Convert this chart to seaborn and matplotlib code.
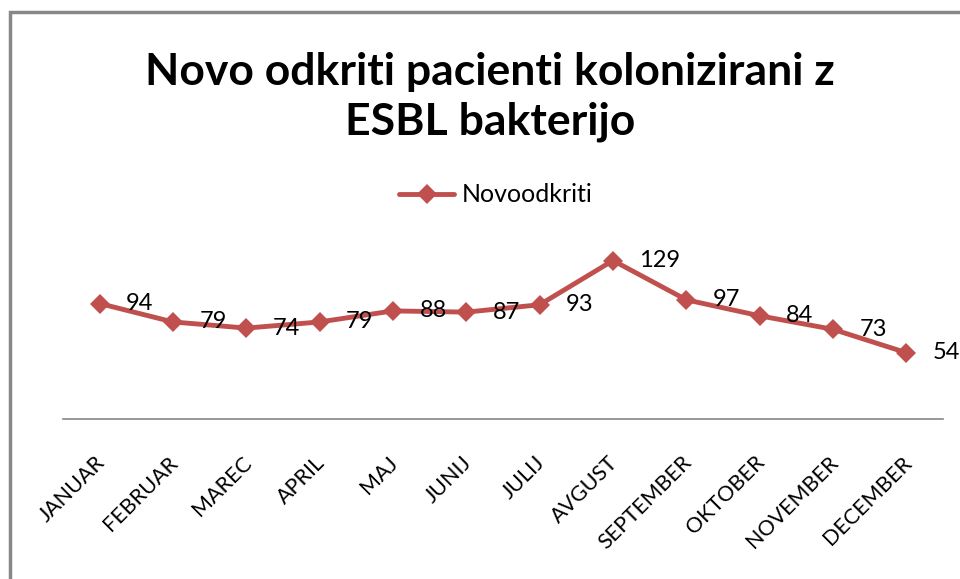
import pandas as pd
import seaborn as sns
import matplotlib.pyplot as plt
import matplotlib.transforms as mtransforms
from matplotlib.patches import Rectangle

months = ['JANUAR', 'FEBRUAR', 'MAREC', 'APRIL', 'MAJ', 'JUNIJ', 'JULIJ',
          'AVGUST', 'SEPTEMBER', 'OKTOBER', 'NOVEMBER', 'DECEMBER']
novoodkriti = [94, 79, 74, 79, 88, 87, 93, 129, 97, 84, 73, 54]

df = pd.DataFrame({'mesec': months, 'Novoodkriti': novoodkriti})

sns.set_theme(style='white')
plt.rcParams['font.family'] = ['Lato', 'DejaVu Sans']
plt.rcParams['text.color'] = 'black'

fig = plt.figure(figsize=(9.6, 5.79), dpi=100)
ax = fig.add_axes([0.0656, 0.2763, 0.9167, 0.2971])

red = '#C0504D'
sns.lineplot(data=df, x='mesec', y='Novoodkriti', ax=ax, color=red,
             linewidth=3.5, marker='D', markersize=10, markeredgewidth=0,
             label='Novoodkriti', sort=False)

# data labels to the right of each point
for i, v in enumerate(novoodkriti):
    ax.annotate(str(v), (i, v), xytext=(19, 0), textcoords='offset points',
                ha='left', va='center', fontsize=17, color='black')

ax.set_xlim(-0.5, 11.5)
ax.set_ylim(0, 140)
ax.set_xlabel('')
ax.set_ylabel('')
ax.set_yticks([])
ax.tick_params(axis='x', length=0, pad=24, colors='black')
shift = mtransforms.ScaledTranslation(-5 / 100, 0, fig.dpi_scale_trans)
for lbl in ax.get_xticklabels():
    lbl.set_rotation(45)
    lbl.set_ha('right')
    lbl.set_rotation_mode('anchor')
    lbl.set_fontsize(15.5)
    lbl.set_transform(lbl.get_transform() + shift)

for s in ['top', 'right', 'left']:
    ax.spines[s].set_visible(False)
ax.spines['bottom'].set_color('#868686')
ax.spines['bottom'].set_linewidth(1.2)

ax.get_legend().remove()
fig.legend(loc='center', bbox_to_anchor=(496 / 960, 1 - 195 / 579),
           frameon=False, fontsize=18, handlelength=2.2, handletextpad=0.3)

fig.text(490 / 960, 1 - 97 / 579,
         'Novo odkriti pacienti kolonizirani z\nESBL bakterijo',
         ha='center', va='center', fontsize=32, fontweight='bold',
         linespacing=1.3, color='black')

# outer chart border
fig.patches.append(Rectangle((10 / 960, -0.1), 1.2, 1 - 12 / 579 + 0.1,
                             transform=fig.transFigure, fill=False,
                             edgecolor='#888888', linewidth=2.5))

fig.savefig('out.png', dpi=100)
